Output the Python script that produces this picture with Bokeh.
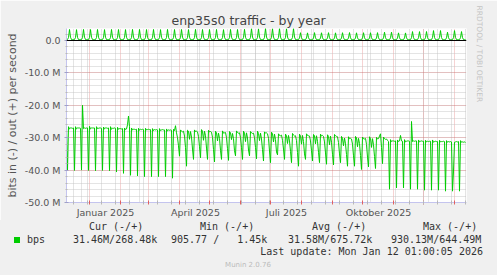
import html
from datetime import datetime, timedelta
from bokeh.plotting import figure
from bokeh.layouts import column
from bokeh.models import (LinearAxis, FixedTicker, Grid, Span, Range1d, Title, Div)
from bokeh.embed import file_html
from bokeh.resources import INLINE

# ---------------- data: daily averages in Mbit/s, starting 2024-12-09 ----------------
in_mbps = [27.0,
    40.1, 26.6, 27.3, 27.0, 27.0, 27.1, 27.0,
    40.1, 26.6, 27.3, 27.0, 27.0, 27.0, 27.1,
    40.0, 20.0, 27.2, 27.0, 27.1, 27.0, 27.0,
    40.1, 26.5, 27.3, 27.0, 27.0, 27.0, 27.0,
    40.2, 26.6, 27.2, 27.1, 27.0, 27.0, 27.1,
    40.1, 26.7, 27.3, 27.0, 27.0, 27.1, 27.0,
    40.2, 26.6, 27.4, 27.1, 27.1, 27.0, 27.1,
    40.6, 26.8, 27.4, 27.2, 27.2, 27.3, 27.2,
    41.0, 27.0, 27.5, 27.3, 26.0, 23.3, 26.6,
    41.6, 27.0, 27.6, 27.4, 27.4, 27.5, 27.4,
    41.8, 27.1, 27.7, 27.4, 27.5, 27.4, 27.5,
    42.0, 27.1, 27.6, 27.5, 27.4, 27.5, 27.5,
    42.0, 27.2, 27.8, 27.5, 27.6, 27.5, 27.6,
    42.0, 27.2, 27.8, 27.6, 27.5, 27.6, 27.6,
    42.0, 27.3, 27.9, 27.6, 27.7, 27.6, 27.7,
    42.5, 27.4, 27.8, 26.3, 28.5, 30.0, 32.5,
    35.7, 27.6, 28.0, 28.2, 28.0, 29.5, 33.0,
    38.8, 27.7, 28.0, 30.5, 28.1, 29.8, 33.5,
    36.7, 27.6, 28.1, 28.0, 28.2, 29.6, 32.8,
    36.2, 27.5, 28.0, 30.8, 28.0, 29.4, 33.2,
    36.7, 27.7, 28.2, 28.1, 28.3, 29.9, 33.6,
    37.5, 28.0, 28.5, 31.0, 28.6, 30.2, 33.9,
    36.7, 27.9, 28.6, 28.5, 28.4, 30.0, 33.4,
    37.0, 28.1, 28.5, 30.6, 28.7, 30.3, 34.0,
    35.6, 27.9, 28.4, 28.6, 28.5, 29.9, 33.1,
    36.7, 28.0, 28.6, 31.2, 28.5, 30.1, 33.8,
    35.6, 28.1, 28.5, 28.7, 28.6, 30.0, 33.0,
    36.5, 28.0, 28.7, 30.9, 28.6, 30.4, 33.7,
    37.2, 28.2, 28.6, 28.5, 28.8, 30.2, 34.1,
    37.7, 28.3, 28.8, 31.3, 28.9, 30.6, 34.4,
    35.3, 28.8, 29.3, 29.4, 29.2, 30.8, 33.5,
    36.7, 28.9, 29.4, 31.8, 29.3, 31.0, 34.2,
    37.7, 28.7, 29.2, 29.5, 29.4, 30.9, 34.6,
    38.8, 28.9, 29.5, 32.0, 29.3, 31.2, 35.0,
    36.7, 28.8, 29.3, 29.4, 29.5, 31.0, 34.0,
    37.2, 29.0, 29.4, 31.9, 29.4, 31.1, 34.5,
    37.7, 28.9, 29.5, 29.3, 29.6, 31.3, 34.7,
    38.2, 29.1, 29.6, 32.2, 29.5, 31.4, 35.1,
    38.4, 29.0, 29.4, 29.6, 29.7, 31.5, 35.0,
    37.7, 29.6, 30.2, 32.5, 30.1, 31.9, 35.2,
    38.8, 29.7, 30.3, 30.2, 30.4, 32.0, 35.6,
    38.8, 29.6, 30.1, 32.8, 30.2, 31.8, 35.5,
    39.8, 29.8, 30.3, 30.4, 30.2, 32.1, 36.0,
    39.0, 29.7, 30.2, 33.0, 30.3, 32.2, 35.8,
    39.5, 29.9, 30.4, 30.3, 29.5, 28.8, 33.0,
    38.0, 29.8, 30.3, 30.5, 30.4, 30.8, 31.2,
    45.9, 30.6, 31.2, 31.0, 31.0, 31.1, 31.0,
    45.5, 30.7, 31.2, 31.0, 29.3, 31.0, 31.1,
    45.5, 30.6, 31.3, 31.1, 31.0, 31.0, 31.1,
    45.9, 25.0, 31.2, 31.0, 31.1, 31.0, 31.0,
    45.9, 30.7, 31.3, 31.1, 31.0, 31.1, 31.1,
    46.2, 30.8, 31.3, 31.1, 31.2, 31.1, 31.1,
    46.2, 30.7, 31.4, 31.2, 31.1, 31.2, 31.2,
    46.2, 30.8, 31.3, 31.2, 31.2, 31.1, 31.2,
    46.5, 30.9, 31.4, 31.2, 31.3, 31.2, 31.3,
    46.5, 40.3, 31.4, 31.3, 31.2, 31.3, 31.2,
    46.5, 30.9, 31.4, 31.3, 31.4, 31.3, 31.46,
]

out_mbps = [0.30,
    0.30, 0.90, 3.40, 1.00, 0.30, 0.28, 0.30,
    0.31, 0.92, 3.35, 0.98, 0.29, 0.30, 0.31,
    0.30, 0.88, 3.42, 1.02, 0.30, 0.29, 0.30,
    0.29, 0.90, 3.38, 1.00, 0.31, 0.30, 0.29,
    0.30, 0.91, 3.40, 0.99, 0.30, 0.30, 0.30,
    0.31, 0.89, 3.36, 1.01, 0.29, 0.31, 0.30,
    0.30, 0.90, 3.41, 1.00, 0.30, 0.29, 0.31,
    0.29, 0.92, 3.39, 0.98, 0.30, 0.30, 0.29,
    0.30, 0.90, 3.37, 1.00, 0.31, 0.30, 0.30,
    0.31, 0.88, 3.43, 1.02, 0.30, 0.29, 0.30,
    0.30, 0.90, 3.40, 1.00, 0.29, 0.30, 0.31,
    0.29, 0.91, 3.38, 0.99, 0.30, 0.31, 0.30,
    0.30, 0.90, 3.41, 1.01, 0.30, 0.30, 0.29,
    0.31, 0.89, 3.36, 1.00, 0.29, 0.30, 0.30,
    0.30, 0.92, 3.42, 0.98, 0.31, 0.29, 0.30,
    0.29, 0.90, 3.39, 1.00, 0.30, 0.30, 0.31,
    0.30, 0.88, 3.40, 1.02, 0.30, 0.31, 0.30,
    0.31, 0.90, 3.37, 1.00, 0.29, 0.30, 0.29,
    0.30, 0.91, 3.43, 0.99, 0.30, 0.29, 0.30,
    0.29, 0.90, 3.40, 1.01, 0.31, 0.30, 0.30,
    0.30, 0.89, 3.38, 1.00, 0.30, 0.30, 0.31,
    0.31, 0.92, 3.41, 0.98, 0.29, 0.31, 0.30,
    0.30, 0.90, 3.36, 1.00, 0.30, 0.29, 0.29,
    0.29, 0.88, 3.42, 1.02, 0.31, 0.30, 0.30,
    0.30, 0.90, 3.39, 1.00, 0.30, 0.30, 0.31,
    0.31, 0.91, 3.44, 0.99, 0.29, 0.30, 0.30,
    0.30, 0.95, 3.66, 1.05, 0.30, 0.29, 0.30,
    0.29, 0.96, 3.60, 1.04, 0.31, 0.30, 0.29,
    0.30, 0.94, 3.70, 1.06, 0.30, 0.31, 0.30,
    0.31, 0.95, 3.64, 1.05, 0.29, 0.30, 0.30,
    0.30, 0.96, 3.68, 1.04, 0.30, 0.29, 0.31,
    0.29, 0.94, 3.62, 1.06, 0.31, 0.30, 0.30,
    0.30, 0.95, 3.67, 1.05, 0.30, 0.30, 0.29,
    0.28, 0.80, 2.40, 0.85, 0.27, 0.28, 0.27,
    0.27, 0.78, 2.35, 0.86, 0.28, 0.27, 0.28,
    0.28, 0.80, 2.42, 0.84, 0.27, 0.28, 0.27,
    0.27, 0.79, 2.38, 0.85, 0.28, 0.27, 0.28,
    0.28, 0.81, 2.41, 0.86, 0.27, 0.28, 0.27,
    0.27, 0.80, 2.36, 0.84, 0.28, 0.27, 0.28,
    0.28, 0.78, 2.40, 0.85, 0.27, 0.28, 0.27,
    0.27, 0.80, 2.44, 0.86, 0.28, 0.27, 0.28,
    0.28, 0.79, 2.37, 0.84, 0.27, 0.28, 0.27,
    0.27, 0.81, 2.40, 0.85, 0.28, 0.27, 0.28,
    0.28, 0.80, 2.39, 0.86, 0.27, 0.28, 0.27,
    0.27, 0.78, 2.42, 0.84, 0.28, 0.27, 0.28,
    0.28, 0.82, 2.55, 0.88, 0.27, 0.28, 0.27,
    0.27, 0.83, 2.56, 0.87, 0.28, 0.27, 0.28,
    0.28, 0.79, 2.35, 0.85, 0.27, 0.28, 0.27,
    0.27, 0.80, 2.34, 0.84, 0.28, 0.27, 0.28,
    0.28, 0.86, 2.75, 0.90, 0.27, 0.28, 0.27,
    0.27, 0.85, 2.74, 0.91, 0.28, 0.27, 0.28,
    0.28, 0.86, 2.76, 0.90, 0.27, 0.28, 0.27,
    0.27, 0.90, 3.05, 0.95, 0.28, 0.27, 0.28,
    0.28, 0.91, 3.06, 0.94, 0.27, 0.28, 0.27,
    0.27, 0.83, 2.55, 0.88, 0.28, 0.27, 0.28,
    0.28, 0.90, 3.05, 0.95, 0.27, 0.28, 0.27,
    0.27, 0.86, 2.75, 0.90, 0.28, 0.27, 0.27,
]
assert len(in_mbps) == len(out_mbps)

series_start = datetime(2024, 12, 9)
series_days = 400

month_label_dates = [datetime(2025, 1, 17), datetime(2025, 4, 17),
                     datetime(2025, 7, 17), datetime(2025, 10, 17)]
month_labels = ["Januar 2025", "April 2025", "Juli 2025", "Oktober 2025"]
month_starts = [datetime(2025, m, 1) for m in range(1, 13)] + [datetime(2026, 1, 1)]

y_tick_values = [0.0, -10e6, -20e6, -30e6, -40e6, -50e6]
y_tick_labels = ["0.0", "-10.0 M", "-20.0 M", "-30.0 M", "-40.0 M", "-50.0 M"]
y_minor_values = [v * 1e6 for v in range(-48, 3, 2) if v % 10 != 0]

title_text = "enp35s0 traffic - by year"
y_axis_text = "bits in (-) / out (+) per second"
legend_name = "bps"
legend_headers = ["Cur (-/+)", "Min (-/+)", "Avg (-/+)", "Max (-/+)"]
legend_values = ["31.46M/268.48k", "905.77 /   1.45k", "31.58M/675.72k", "930.13M/644.49M"]
last_update_text = "Last update: Mon Jan 12 01:00:05 2026"
footer_text = "Munin 2.0.76"
watermark_text = "RRDTOOL / TOBI OETIKER"

# ---------------- helpers ----------------
EPOCH = datetime(1970, 1, 1)
def ms(d):
    return (d - EPOCH).total_seconds() * 1000.0

DAY = 86400000.0
x_vals = [ms(series_start) + i * DAY for i in range(len(in_mbps))]
x_start = ms(series_start)
x_end = ms(series_start + timedelta(days=series_days))
biweek = []
t = series_start + timedelta(days=7)
while t < series_start + timedelta(days=series_days):
    biweek.append(ms(t))
    t += timedelta(days=14)

GREEN = "#00CC00"
AXIS = "#C4C4EE"
RED_GRID = "#E06060"
GRAY_GRID = "#C4C4C4"
BG = "#F0F0F0"
SANS = "DejaVu Sans"
MONO = "DejaVu Sans Mono"

MAIN_H = 220
# ---------------- main chart ----------------
p = figure(width=497, height=MAIN_H, output_backend="svg", toolbar_location=None, tools="",
           x_range=Range1d(x_start, x_end), y_range=Range1d(-50e6, 3.7e6),
           x_axis_location=None, y_axis_location=None,
           min_border_left=66, min_border_right=31, min_border_top=28,
           min_border_bottom=MAIN_H - 203,
           background_fill_color="white", border_fill_color=BG,
           outline_line_color=None)

p.title = Title(text=title_text, align="left", offset=105, standoff=2,
                text_font=SANS, text_font_size="12.5px", text_font_style="normal",
                text_color="#444444")

p.add_layout(Title(text=watermark_text, align="left", offset=-23, standoff=17,
                   text_font=SANS, text_font_size="7.5px", text_font_style="normal",
                   text_color="#C4C4C4"), "right")

month_ticker = FixedTicker(ticks=[ms(d) for d in month_starts], minor_ticks=biweek)
xa = LinearAxis(ticker=month_ticker,
                major_label_overrides={ms(d): "" for d in month_starts},
                major_label_text_font_size="1px", major_label_standoff=0,
                axis_line_color=AXIS, major_tick_line_color="#E06060",
                major_tick_in=2, major_tick_out=2,
                minor_tick_line_color="#B8B8B8", minor_tick_in=2, minor_tick_out=2)
p.add_layout(xa, "below")

label_ms = [ms(d) for d in month_label_dates]
xb = LinearAxis(ticker=FixedTicker(ticks=label_ms, minor_ticks=[]),
                major_label_overrides=dict(zip(label_ms, month_labels)),
                axis_line_color=None, major_tick_line_color=None, minor_tick_line_color=None,
                major_tick_in=0, major_tick_out=0, major_label_standoff=2,
                major_label_text_font=SANS, major_label_text_font_size="9.5px",
                major_label_text_color="#555555")
p.add_layout(xb, "below")

y_ticker = FixedTicker(ticks=y_tick_values, minor_ticks=y_minor_values)
ya = LinearAxis(ticker=y_ticker,
                major_label_overrides=dict(zip(y_tick_values, y_tick_labels)),
                axis_line_color=AXIS, major_tick_line_color="#A0A0C8",
                major_tick_in=2, major_tick_out=2,
                minor_tick_line_color="#B8B8B8", minor_tick_in=1, minor_tick_out=1,
                major_label_standoff=4,
                major_label_text_font=SANS, major_label_text_font_size="9.5px",
                major_label_text_color="#555555",
                axis_label=y_axis_text, axis_label_standoff=3,
                axis_label_text_font=SANS, axis_label_text_font_size="11px",
                axis_label_text_font_style="normal", axis_label_text_color="#555555")
p.add_layout(ya, "left")

p.add_layout(Grid(dimension=0, ticker=month_ticker,
                  grid_line_color=RED_GRID, grid_line_dash="1 1", grid_line_alpha=0.55,
                  minor_grid_line_color=GRAY_GRID, minor_grid_line_dash="1 1",
                  minor_grid_line_alpha=0.9))
p.add_layout(Grid(dimension=1, ticker=y_ticker,
                  grid_line_color=RED_GRID, grid_line_dash="1 1", grid_line_alpha=0.55,
                  minor_grid_line_color=GRAY_GRID, minor_grid_line_dash="1 1",
                  minor_grid_line_alpha=0.9))

# data lines (in drawn negative, out positive)
p.line(x_vals, [-v * 1e6 for v in in_mbps], line_color=GREEN, line_width=1)
p.line(x_vals, [v * 1e6 for v in out_mbps], line_color=GREEN, line_width=1)
p.add_layout(Span(location=0, dimension="width", line_color="black", line_width=1))

# ---------------- legend strip below the chart ----------------
LH = 275 - MAIN_H
def cy(y):  # canvas y -> strip y
    return y - MAIN_H

def svg_text(x, y, s, font=MONO, size="10px", color="#333333", anchor="start"):
    style = ("font-family:'%s';font-size:%s;fill:%s;text-anchor:%s;white-space:pre;"
             "font-weight:normal;font-style:normal" % (font, size, color, anchor))
    return '<text x="%s" y="%s" xml:space="preserve" style="%s">%s</text>' % (
        x, cy(y), style, html.escape(s))

parts = []
for s, x in zip(legend_headers, [89, 200, 312, 423]):
    parts.append(svg_text(x, 230, s))
parts.append('<rect x="14" y="%s" width="6" height="6" style="fill:%s"/>' % (cy(237), GREEN))
parts.append(svg_text(27, 242.5, legend_name))
for s, x in zip(legend_values, [73, 171, 288, 391]):
    parts.append(svg_text(x, 242.5, s))
parts.append(svg_text(483, 255, last_update_text, anchor="end"))
parts.append(svg_text(248, 266.5, footer_text, font=SANS, size="7px", color="#BBBBBB",
                      anchor="middle"))

legend_div = Div(text=('<svg xmlns="http://www.w3.org/2000/svg" width="497" height="%d" '
                       'style="display:block;background:%s">%s</svg>') % (LH, BG, "".join(parts)),
                 width=497, height=LH, margin=(0, 0, 0, 0),
                 styles={"background-color": BG, "padding": "0px", "margin": "0px"})

layout = column(p, legend_div, spacing=0)
open("out.html", "w").write(file_html(layout, INLINE))
